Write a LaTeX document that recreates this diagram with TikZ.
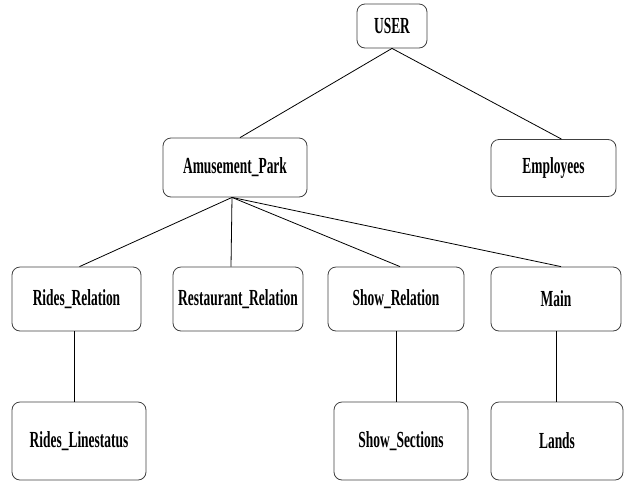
\documentclass[tikz,border=0pt]{standalone}
\usepackage{fontspec}
\setmainfont{Liberation Serif}[FakeStretch=0.585]

\begin{document}
\begin{tikzpicture}[
    x=1pt, y=-1pt,
    entity/.style={rectangle, rounded corners=8pt, draw=black!75, line width=0.8pt,
        inner sep=0pt, font=\fontsize{23}{26}\selectfont\bfseries},
    link/.style={line width=0.8pt, black}
]
    \useasboundingbox (0,0) rectangle (624,483);

    % --- Top Level ---
    \node[entity, minimum width=70pt, minimum height=44pt] (user) at (392, 26) {USER};

    % --- Second Level ---
    \node[entity, minimum width=144pt, minimum height=59pt] (park) at (235, 167.5) {Amusement\_Park};
    \node[entity, minimum width=125pt, minimum height=57pt] (employees) at (553.5, 168) {Employees};

    % --- Relations ---
    \node[entity, minimum width=129pt, minimum height=64pt] (rides) at (76.5, 299) {Rides\_Relation};
    \node[entity, minimum width=130pt, minimum height=64pt] (restaurant) at (238, 299) {Restaurant\_Relation};
    \node[entity, minimum width=136pt, minimum height=64pt] (show) at (396, 299) {Show\_Relation};
    \node[entity, minimum width=130pt, minimum height=64pt] (main) at (556, 299) {Main};

    % --- Bottom Level ---
    \node[entity, minimum width=134pt, minimum height=78pt] (linestatus) at (79, 441) {Rides\_Linestatus};
    \node[entity, minimum width=134pt, minimum height=78pt] (sections) at (401, 441) {Show\_Sections};
    \node[entity, minimum width=132pt, minimum height=78pt] (lands) at (557, 441) {Lands};

    % --- Links ---
    \draw[link] (user.south) -- ([xshift=5pt]park.north);
    \draw[link] (user.south) -- ([xshift=8pt]employees.north);

    \draw[link] ([xshift=-3pt]park.south) -- ([xshift=3pt]rides.north);
    \draw[link] ([xshift=-3pt]park.south) -- ([xshift=-7pt]restaurant.north);
    \draw[link] ([xshift=-3pt]park.south) -- ([xshift=4pt]show.north);
    \draw[link] ([xshift=-3pt]park.south) -- ([xshift=5pt]main.north);

    % vertical ties
    \draw[link] ([xshift=-2pt]rides.south) -- ([xshift=-2pt]rides.south |- linestatus.north);
    \draw[link] (show.south) -- (show.south |- sections.north);
    \draw[link] (main.south) -- (main.south |- lands.north);

\end{tikzpicture}
\end{document}
